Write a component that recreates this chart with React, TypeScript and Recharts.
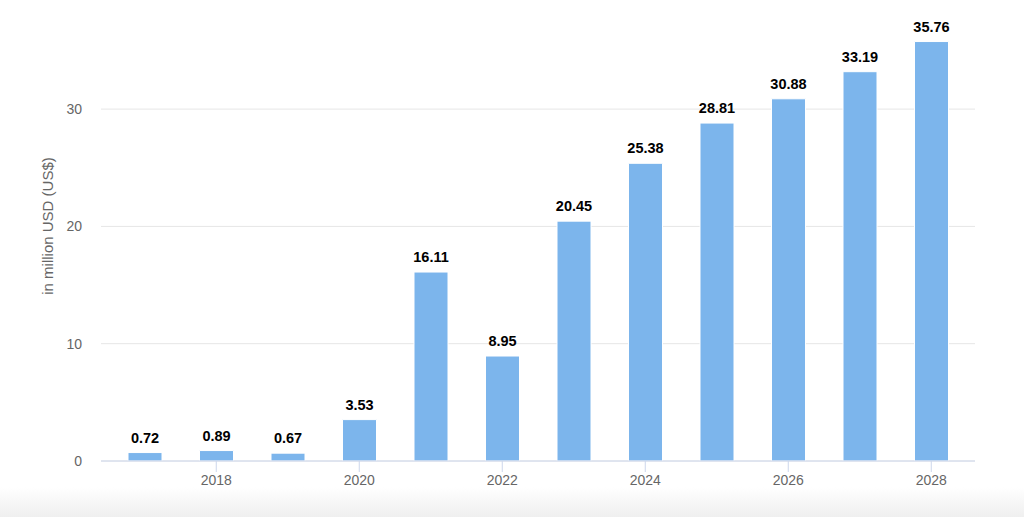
import React from 'react'
import { BarChart, Bar, XAxis, YAxis, CartesianGrid, LabelList } from 'recharts'

const years = ['2017', '2018', '2019', '2020', '2021', '2022', '2023', '2024', '2025', '2026', '2027', '2028']
const revenue = [0.72, 0.89, 0.67, 3.53, 16.11, 8.95, 20.45, 25.38, 28.81, 30.88, 33.19, 35.76]
const yTicks = [0, 10, 20, 30]
const labeledYears = ['2018', '2020', '2022', '2024', '2026', '2028']

const data = years.map((year, i) => ({ year, value: revenue[i] }))

const FONT = '"Liberation Sans", Arial, Helvetica, sans-serif'

function YearTick(props: any): JSX.Element | null {
  const { x, y, payload } = props
  if (!labeledYears.includes(payload.value)) return null
  return (
    <g>
      <line x1={x} x2={x} y1={y} y2={y + 11} stroke="#ccd6eb" strokeWidth={1} />
      <text x={x} y={y + 24} textAnchor="middle" fill="#666666" fontSize={14} fontFamily={FONT}>
        {payload.value}
      </text>
    </g>
  )
}

function AxisTitle(props: any): JSX.Element {
  const { viewBox } = props
  const cy = viewBox.y + viewBox.height / 2 - 18
  return (
    <text
      x={47}
      y={cy}
      transform={`rotate(-90, 47, ${cy})`}
      textAnchor="middle"
      dominantBaseline="central"
      fill="#666666"
      fontSize={15}
      fontFamily={FONT}
    >
      in million USD (US$)
    </text>
  )
}

export default function App(): JSX.Element {
  return (
    <div style={{ position: 'absolute', left: 0, top: 0, width: 1024, height: 517, background: '#fff', overflow: 'hidden' }}>
      <BarChart
        width={1024}
        height={517}
        data={data}
        margin={{ top: 27, right: 49, bottom: 0, left: 0 }}
        barCategoryGap={0}
      >
        <CartesianGrid vertical={false} stroke="#e6e6e6" horizontalValues={yTicks} />
        <XAxis
          dataKey="year"
          interval={0}
          height={56}
          tickSize={0}
          tickMargin={0}
          tickLine={false}
          axisLine={{ stroke: '#ccd6eb' }}
          padding={{ left: 8, right: 8 }}
          tick={<YearTick />}
        />
        <YAxis
          width={101}
          domain={[0, 37]}
          ticks={yTicks}
          allowDataOverflow
          axisLine={false}
          tickLine={false}
          tickSize={0}
          tickMargin={19}
          tick={{ fill: '#666666', fontSize: 14, fontFamily: FONT }}
          label={<AxisTitle />}
        />
        <Bar dataKey="value" fill="#7cb5ec" stroke="#ffffff" strokeWidth={1} barSize={34} isAnimationActive={false}>
          <LabelList
            dataKey="value"
            position="top"
            offset={10}
            formatter={(v: any) => Number(v).toFixed(2)}
            style={{ fill: '#000000', fontSize: 14.5, fontWeight: 'bold', fontFamily: FONT }}
          />
        </Bar>
      </BarChart>
      <div
        style={{
          position: 'absolute',
          left: 0,
          top: 487,
          width: 1024,
          height: 30,
          background: 'linear-gradient(to bottom, rgba(240,240,240,0), #efefef)',
          pointerEvents: 'none'
        }}
      />
    </div>
  )
}
